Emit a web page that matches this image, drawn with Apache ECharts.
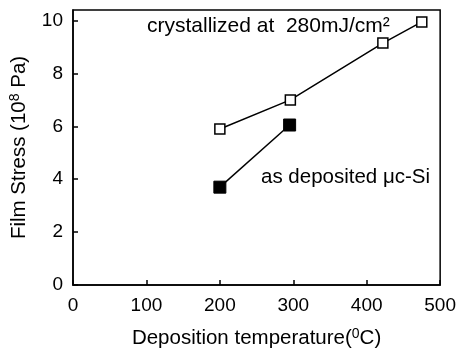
<!DOCTYPE html>
<html>
<head>
<meta charset="utf-8">
<script src="https://cdn.jsdelivr.net/npm/echarts@6/dist/echarts.min.js"></script>
<style>
  * { margin: 0; padding: 0; }
  body { background: #fff; }
  #chart { width: 459px; height: 354px; }
</style>
</head>
<body>
<div id="chart"></div>
<script>
// crystallized at 280mJ/cm2 (open squares)
var crystTemp = [200, 296, 422, 475];
var crystStress = [5.9, 7.0, 9.15, 9.95];
// as deposited uc-Si (filled squares)
var depoTemp = [200, 295];
var depoStress = [3.7, 6.05];
var xTicks = [0, 100, 200, 300, 400, 500];
var yTicks = [0, 2, 4, 6, 8, 10];

var font = "'Liberation Sans', Arial, sans-serif";

function pairs(xs, ys) {
  return xs.map(function (x, i) { return [x, ys[i]]; });
}

var myChart = echarts.init(document.getElementById("chart"));
var option = {
  animation: false,
  grid: {
    show: true,
    left: 73, right: 13, top: 10, bottom: 68,
    borderColor: "#000",
    borderWidth: 1.5
  },
  xAxis: {
    type: "value",
    min: xTicks[0],
    max: xTicks[xTicks.length - 1],
    interval: 100,
    splitLine: { show: false },
    axisLine: { lineStyle: { color: "#000", width: 1.5 } },
    axisTick: { inside: true, length: 5, lineStyle: { color: "#000", width: 1.5 } },
    axisLabel: { color: "#000", fontSize: 19, fontFamily: font, margin: 11 },
    name: "{a|Deposition temperature(}{s|0}{a|C)}",
    nameLocation: "middle",
    nameGap: 42,
    nameTextStyle: {
      rich: {
        a: { fontSize: 20.5, fontFamily: font, color: "#000" },
        s: { fontSize: 14, fontFamily: font, color: "#000", verticalAlign: "top", padding: [0, 0, 9, 0] }
      }
    }
  },
  yAxis: {
    type: "value",
    min: yTicks[0],
    max: 10.4,
    interval: 2,
    splitLine: { show: false },
    axisLine: { lineStyle: { color: "#000", width: 1.5 } },
    axisTick: { inside: true, length: 5, lineStyle: { color: "#000", width: 1.5 } },
    axisLabel: {
      color: "#000", fontSize: 19, fontFamily: font, margin: 10,
      showMaxLabel: false,
      formatter: function (v) { return yTicks.indexOf(v) >= 0 ? String(v) : ""; }
    },
    name: "{a|Film Stress (10}{s|8}{a| Pa)}",
    nameLocation: "middle",
    nameGap: 42,
    nameTextStyle: {
      rich: {
        a: { fontSize: 20.5, fontFamily: font, color: "#000" },
        s: { fontSize: 14, fontFamily: font, color: "#000", verticalAlign: "top", padding: [0, 0, 9, 0] }
      }
    }
  },
  graphic: [
    {
      type: "text", left: 147, top: 16,
      style: { text: "crystallized at  280mJ/cm\u00b2", font: "21px " + font, fill: "#000" }
    },
    {
      type: "text", left: 261, top: 167,
      style: { text: "as deposited \u03bcc-Si", font: "20.5px " + font, fill: "#000" }
    }
  ],
  series: [
    {
      type: "line",
      data: pairs(crystTemp, crystStress),
      symbol: "rect",
      symbolSize: 10,
      lineStyle: { color: "#000", width: 1.5 },
      itemStyle: { color: "#fff", borderColor: "#000", borderWidth: 1.5 }
    },
    {
      type: "line",
      data: pairs(depoTemp, depoStress),
      symbol: "rect",
      symbolSize: 12,
      lineStyle: { color: "#000", width: 1.5 },
      itemStyle: { color: "#000", borderColor: "#000", borderWidth: 1 }
    }
  ]
};
myChart.setOption(option);
</script>
</body>
</html>
